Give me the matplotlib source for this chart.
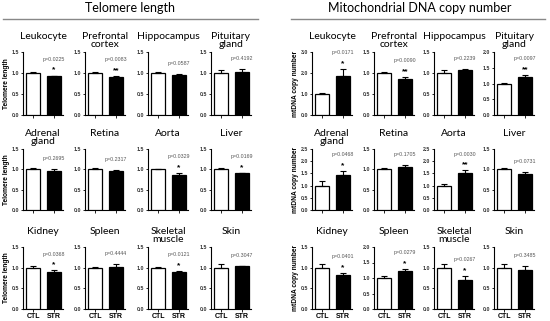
import matplotlib
matplotlib.use("Agg")
import matplotlib.pyplot as plt
from matplotlib.lines import Line2D
from matplotlib.transforms import blended_transform_factory

groups = ["CTL", "STR"]
tissues = ["Leukocyte", "Prefrontal\ncortex", "Hippocampus", "Pituitary\ngland",
           "Adrenal\ngland", "Retina", "Aorta", "Liver",
           "Kidney", "Spleen", "Skeletal\nmuscle", "Skin"]

# Telomere length
tel_ctl_mean = [1.00, 1.00, 1.00, 1.00, 1.00, 1.00, 1.00, 1.00, 1.00, 1.00, 1.00, 1.00]
tel_ctl_err = [0.02, 0.02, 0.02, 0.07, 0.03, 0.03, 0.02, 0.03, 0.05, 0.01, 0.02, 0.08]
tel_str_mean = [0.92, 0.90, 0.96, 1.02, 0.96, 0.96, 0.87, 0.90, 0.90, 1.01, 0.90, 1.03]
tel_str_err = [0.02, 0.03, 0.01, 0.07, 0.05, 0.02, 0.05, 0.02, 0.04, 0.08, 0.02, 0.01]
tel_p = ["0.0225", "0.0083", "0.0587", "0.4192", "0.2695", "0.2317",
         "0.0329", "0.0169", "0.0368", "0.4444", "0.0121", "0.3047"]
tel_sig = ["*", "**", "", "", "", "", "*", "*", "*", "", "*", ""]
tel_ymax = [1.5, 1.5, 1.5, 1.5, 1.5, 1.5, 1.5, 1.5, 1.5, 1.5, 1.5, 1.5]
tel_ystep = [0.5, 0.5, 0.5, 0.5, 0.5, 0.5, 0.5, 0.5, 0.5, 0.5, 0.5, 0.5]

# Mitochondrial DNA copy number
mt_ctl_mean = [1.00, 1.00, 1.00, 1.00, 1.00, 1.00, 1.00, 1.00, 1.00, 1.00, 1.00, 1.00]
mt_ctl_err = [0.05, 0.03, 0.07, 0.02, 0.17, 0.03, 0.05, 0.04, 0.08, 0.05, 0.10, 0.10]
mt_str_mean = [1.88, 0.85, 1.07, 1.20, 1.43, 1.06, 1.50, 0.89, 0.82, 1.22, 0.71, 0.95]
mt_str_err = [0.30, 0.05, 0.03, 0.07, 0.18, 0.05, 0.13, 0.05, 0.05, 0.08, 0.09, 0.10]
mt_p = ["0.0171", "0.0090", "0.2239", "0.0097", "0.0468", "0.1705",
        "0.0030", "0.0731", "0.0401", "0.0279", "0.0267", "0.3485"]
mt_sig = ["*", "**", "", "**", "*", "", "**", "", "*", "*", "*", ""]
mt_ymax = [3.0, 1.5, 1.5, 2.0, 2.5, 1.5, 2.5, 1.5, 1.5, 2.0, 1.5, 1.5]
mt_ystep = [1.0, 0.5, 0.5, 0.5, 0.5, 0.5, 0.5, 0.5, 0.5, 0.5, 0.5, 0.5]

W, H = 550, 321
fig = plt.figure(figsize=(5.5, 3.21), dpi=100)

title_font = ["Lato", "DejaVu Sans"]
num_font = ["Liberation Sans", "DejaVu Sans"]

col_left_L = [23, 85, 148, 211]
col_left_R = [312, 374, 434, 494]
row_bottom = [115, 210, 309]
row_height = [63, 61, 62]
ax_w = 40


def draw_half(cols_x, ctl_m, ctl_e, str_m, str_e, pvals, sigs, ymaxs, ysteps, ylabel):
    for i in range(12):
        r, c = divmod(i, 4)
        x0 = cols_x[c]
        yb = row_bottom[r]
        h = row_height[r]
        ax = fig.add_axes([x0 / W, (H - yb) / H, ax_w / W, h / H])
        xs = [0, 1]
        ax.bar(xs, [ctl_m[i], str_m[i]], width=0.68, color=["white", "black"],
               edgecolor="black", linewidth=0.9, zorder=3)
        ax.errorbar(xs, [ctl_m[i], str_m[i]],
                    yerr=[[0, 0], [ctl_e[i], str_e[i]]], fmt="none",
                    ecolor="black", elinewidth=0.8, capsize=2.2, capthick=0.8, zorder=4)
        ax.set_xlim(-0.48, 1.43)
        ax.set_ylim(0, ymaxs[i])
        n = int(round(ymaxs[i] / ysteps[i]))
        ticks = [k * ysteps[i] for k in range(n + 1)]
        ax.set_yticks(ticks)
        ax.set_yticklabels([f"{t:.1f}" for t in ticks], fontsize=3.8,
                           fontweight="bold", family=num_font, color="#333333")
        ax.set_xticks(xs)
        if r == 2:
            ax.set_xticklabels(groups, fontsize=5, fontweight="bold", family=num_font)
        else:
            ax.set_xticklabels(["", ""])
        ax.tick_params(axis="both", direction="out", length=1.8, width=0.6, pad=1)
        for s in ["top", "right"]:
            ax.spines[s].set_visible(False)
        for s in ["left", "bottom"]:
            ax.spines[s].set_linewidth(0.8)
        tr = blended_transform_factory(ax.transData, ax.transAxes)
        top = (str_m[i] + str_e[i]) / ymaxs[i]
        if sigs[i]:
            ax.text(1, top + 0.03, sigs[i], transform=tr, ha="center", va="bottom",
                    fontsize=6, fontweight="bold", family=num_font)
            ax.text(1, top + 0.22, "p=" + pvals[i], transform=tr, ha="center",
                    va="bottom", fontsize=3.8, color="#555555", family=num_font)
        else:
            ax.text(1, top + 0.13, "p=" + pvals[i], transform=tr, ha="center",
                    va="bottom", fontsize=3.8, color="#555555", family=num_font)
        if c == 0:
            ax.set_ylabel(ylabel, fontsize=4.8, fontweight="bold", family=num_font,
                          labelpad=1.5)
        # panel title
        fig.text((x0 + ax_w / 2) / W, (H - (yb - h) + 20) / H, tissues[i],
                 ha="center", va="top", fontsize=7.5, family=title_font,
                 linespacing=0.9)


draw_half(col_left_L, tel_ctl_mean, tel_ctl_err, tel_str_mean, tel_str_err,
          tel_p, tel_sig, tel_ymax, tel_ystep, "Telomere length")
draw_half(col_left_R, mt_ctl_mean, mt_ctl_err, mt_str_mean, mt_str_err,
          mt_p, mt_sig, mt_ymax, mt_ystep, "mtDNA copy number")

fig.text(130 / W, (H - 8) / H, "Telomere length", ha="center", va="center",
         fontsize=9, family=title_font)
fig.text(420 / W, (H - 8) / H, "Mitochondrial DNA copy number", ha="center",
         va="center", fontsize=9, family=title_font)
fig.add_artist(Line2D([3 / W, 258 / W], [(H - 19) / H] * 2, color="#888888", lw=1))
fig.add_artist(Line2D([291 / W, 545 / W], [(H - 19) / H] * 2, color="#888888", lw=1))

fig.savefig("out.png", dpi=100)
